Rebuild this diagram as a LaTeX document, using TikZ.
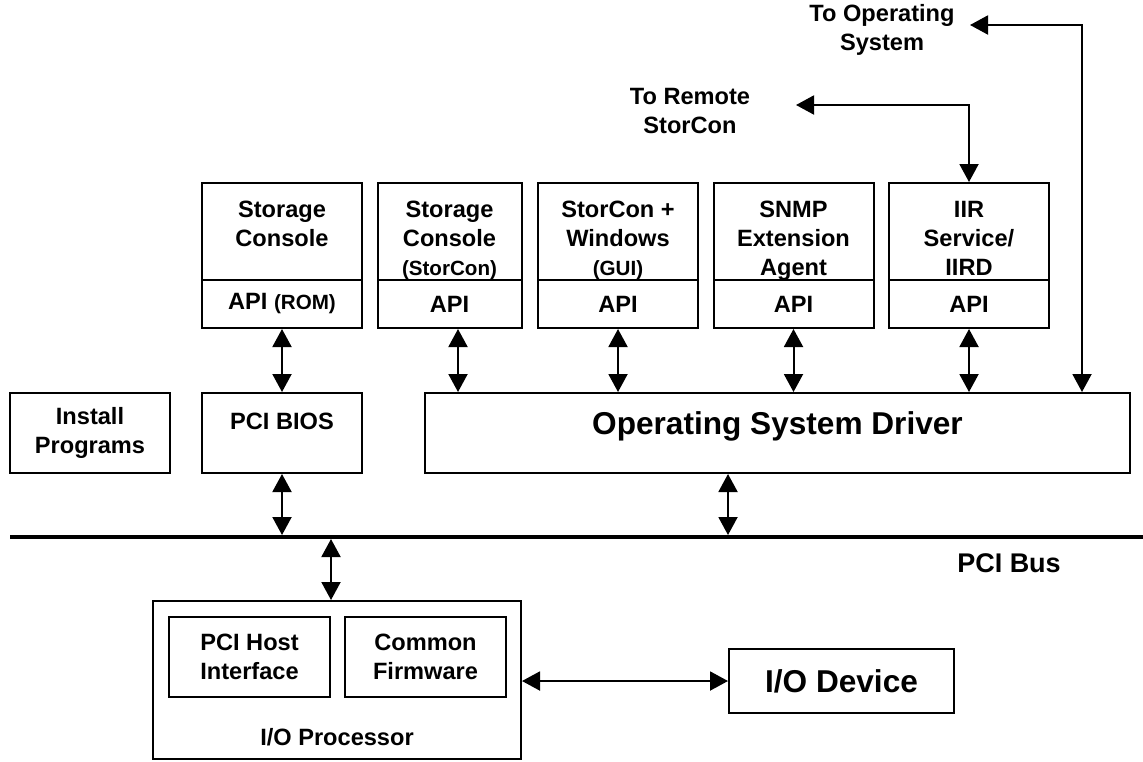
\documentclass[tikz,border=0pt]{standalone}
\usepackage{fontspec}
\setmainfont{Liberation Sans}
\usetikzlibrary{arrows.meta, positioning}
\newcommand{\subtxt}[1]{{\fontsize{10.3}{12}\selectfont #1}}

\begin{document}
\begin{tikzpicture}[
  x=0.5pt, y=-0.5pt,
  font=\bfseries\fontsize{11.8}{14.5}\selectfont,
  >={Triangle[length=9pt,width=9.5pt]},
  box/.style={draw, line width=1pt, minimum width=80pt, inner sep=0pt, align=center},
  app/.style={box, minimum height=48.5pt},
  api/.style={box, fill=white, minimum height=24pt},
  txt/.style={align=center, inner sep=0pt},
  big/.style={font=\bfseries\fontsize{15.8}{19}\selectfont},
  dbl/.style={<->, line width=1pt},
  bus/.style={line width=2pt},
]
\useasboundingbox (0,0) rectangle (1143,761);

% ---------------- Applications (upper row) ----------------
\node[app] (con)  at (282,231.5) {};
\node[app, minimum width=72pt] (stc) at (449.5,231.5) {};
\node[app] (gui)  at (618,231.5) {};
\node[app] (snmp) at (793.5,231.5) {};
\node[app] (iir)  at (969,231.5) {};

\node[txt, anchor=north] at (282,201)   {Storage\\Console};
\node[txt, anchor=north] at (449.5,201) {Storage\\Console\\\subtxt{(StorCon)}};
\node[txt, anchor=north] at (618,201)   {StorCon +\\Windows\\\subtxt{(GUI)}};
\node[txt, anchor=north] at (793.5,201) {SNMP\\Extension\\Agent};
\node[txt, anchor=north] at (969,201)   {IIR\\Service/\\IIRD};

% ---------------- API strips ----------------
\node[api] (conapi)  at (282,304)   {API \subtxt{(ROM)}};
\node[api, minimum width=72pt] (stcapi) at (449.5,304) {API};
\node[api] (guiapi)  at (618,304)   {API};
\node[api] (snmpapi) at (793.5,304) {API};
\node[api] (iirapi)  at (969,304)   {API};

% ---------------- Middle row ----------------
\node[box, minimum height=40pt] (inst) at (90,433) {Install\\Programs};
\node[box, minimum height=40pt] (bios) at (282,433) {};
\node[txt] at (282,421) {PCI BIOS};
\node[box, minimum width=352.5pt, minimum height=40pt] (osd) at (777.5,433) {};
\node[txt, big] at (777.5,426) {Operating System Driver};

% ---------------- External targets ----------------
\node[txt] (tos)  at (882,30)  {To Operating\\System};
\node[txt] (trem) at (690,111) {To Remote\\StorCon};
\coordinate (toOS)  at (970,25);
\coordinate (osup)  at (1082,25);
\coordinate (toRem) at (796,105);

% ---------------- PCI bus ----------------
\coordinate (busL) at (10,537);
\coordinate (busR) at (1143,537);
\draw[bus] (busL) -- (busR);
\node[txt, font=\bfseries\fontsize{13.5}{16}\selectfont] (pcibus) at (1009,563) {PCI Bus};

% ---------------- I/O processor ----------------
\node[box, minimum width=184pt, minimum height=79pt] (iop) at (337,680) {};
\node[box, minimum width=80.5pt, minimum height=40pt] (host) at (249.5,657) {PCI Host\\Interface};
\node[box, minimum width=80.5pt, minimum height=40pt] (firm) at (425.5,657) {Common\\Firmware};
\node[txt] at (337,737) {I/O Processor};
\node[box, big, minimum width=112.5pt, minimum height=32pt] (iodev) at (841.5,681) {I/O Device};

% ---------------- Links ----------------
\coordinate (stctap) at ([xshift=4.25pt]stcapi.south);
\coordinate (osdtap) at ([xshift=-24.75pt]osd.south);
\coordinate (ioptap) at ([xshift=-3pt]iop.north);
\draw[dbl] (conapi.south) -- (bios.north);
\draw[dbl] (stctap) -- (stctap |- osd.north);
\draw[dbl] (guiapi.south) -- (guiapi.south |- osd.north);
\draw[dbl] (snmpapi.south) -- (snmpapi.south |- osd.north);
\draw[dbl] (iirapi.south) -- (iirapi.south |- osd.north);
\draw[dbl] (toRem) -| (iir.north);
\draw[dbl] (toOS) -- (osup) -- (osup |- osd.north);
\draw[dbl, shorten >=1pt] (bios.south) -- (bios.south |- busL);
\draw[dbl, shorten >=1pt] (osdtap) -- (osdtap |- busL);
\draw[dbl, shorten <=1pt] (ioptap |- busL) -- (ioptap);
\draw[dbl] (iop.east |- iodev.west) -- (iodev.west);
\end{tikzpicture}
\end{document}
